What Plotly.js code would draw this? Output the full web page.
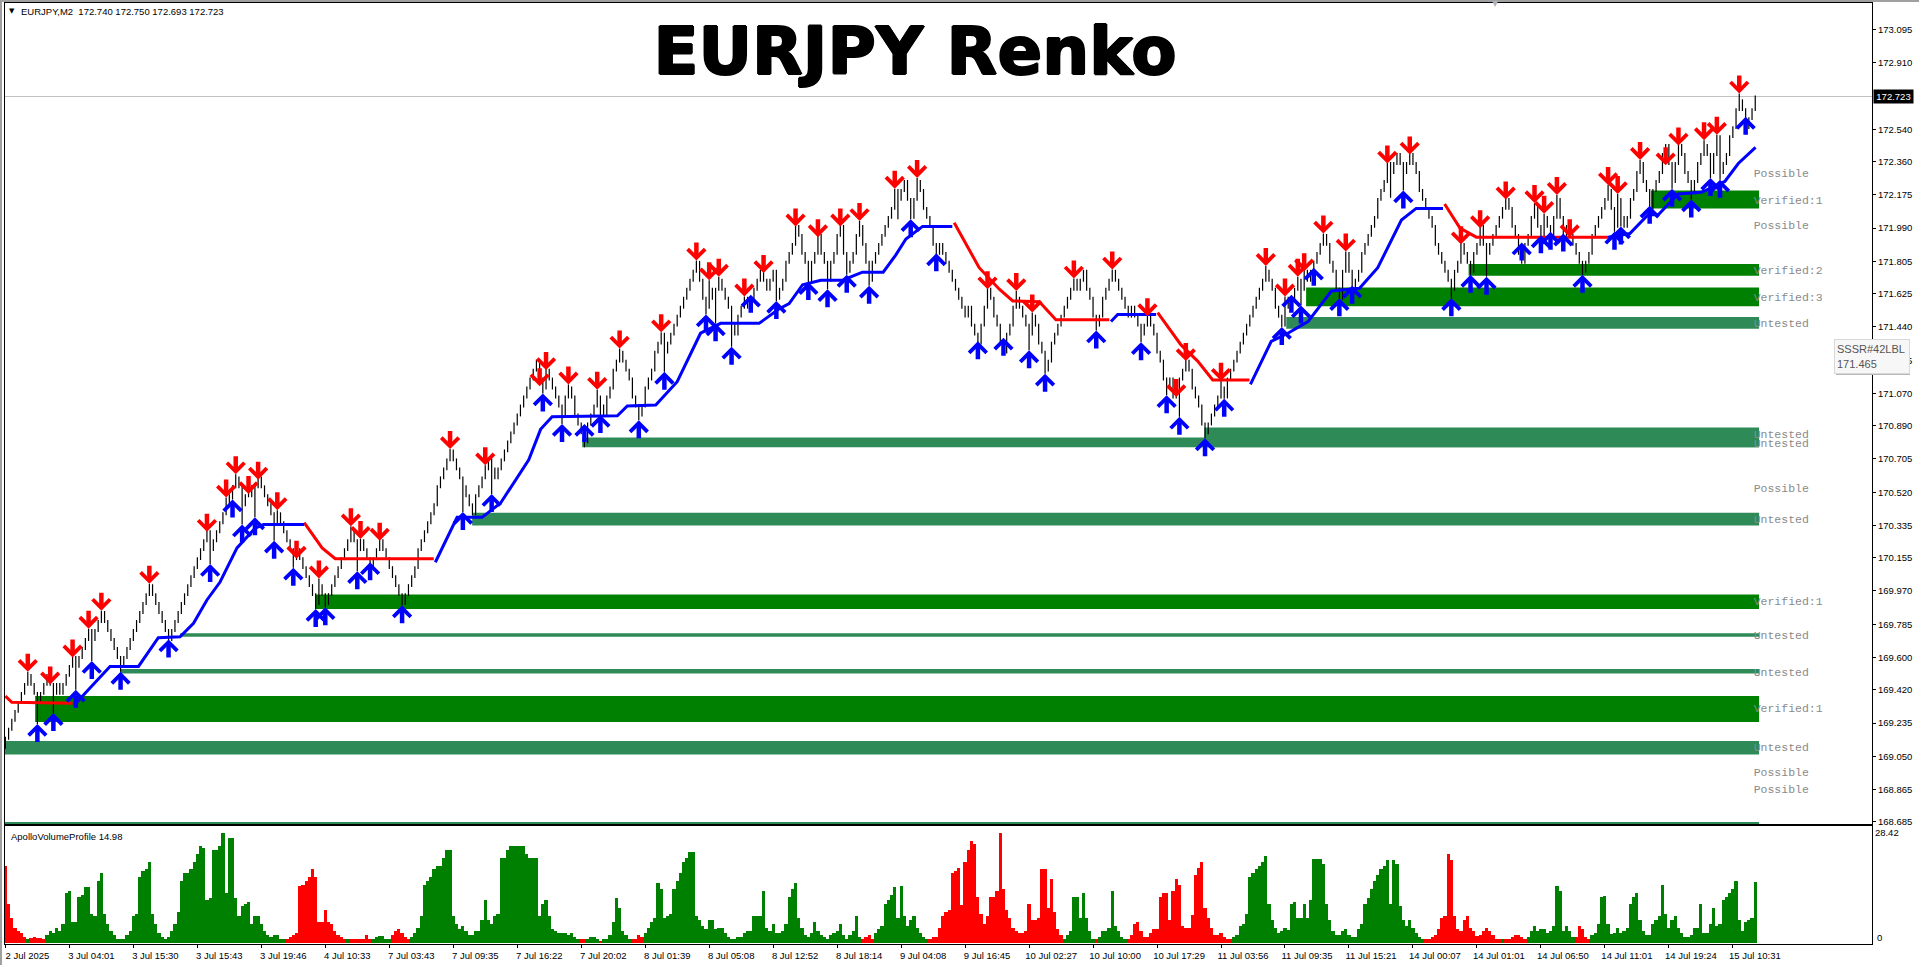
<!DOCTYPE html>
<html>
<head>
<meta charset="utf-8">
<script src="https://cdn.plot.ly/plotly-3.0.1.min.js"></script>
<style>html,body{margin:0;padding:0;background:#fff;overflow:hidden}</style>
</head>
<body>
<div id="chart" style="width:1919px;height:965px"></div>
<script>
// Renko closes, one per bar
const closes = [
169.15,169.20,169.25,169.30,169.35,169.40,169.45,169.50,169.45,169.40,
169.35,169.40,169.45,169.50,169.45,169.40,169.45,169.40,169.45,169.50,
169.55,169.60,169.55,169.60,169.65,169.70,169.75,169.70,169.75,169.80,
169.85,169.80,169.75,169.70,169.65,169.60,169.55,169.60,169.65,169.70,
169.75,169.80,169.85,169.90,169.95,170.00,169.95,169.90,169.85,169.80,
169.75,169.70,169.75,169.80,169.85,169.90,169.95,170.00,170.05,170.10,
170.15,170.20,170.25,170.30,170.20,170.25,170.30,170.35,170.40,170.45,
170.50,170.55,170.60,170.55,170.45,170.50,170.55,170.50,170.55,170.60,
170.55,170.50,170.45,170.40,170.35,170.40,170.35,170.30,170.25,170.20,
170.15,170.20,170.15,170.10,170.05,170.00,169.95,169.90,170.00,169.95,
169.90,169.95,170.00,170.05,170.10,170.15,170.20,170.25,170.30,170.25,
170.20,170.25,170.20,170.15,170.10,170.15,170.20,170.25,170.20,170.15,
170.10,170.05,170.00,169.95,169.90,169.95,170.00,170.05,170.10,170.20,
170.25,170.30,170.35,170.40,170.45,170.55,170.60,170.65,170.70,170.75,
170.70,170.65,170.60,170.55,170.50,170.45,170.40,170.50,170.55,170.60,
170.65,170.70,170.65,170.60,170.65,170.70,170.75,170.80,170.85,170.90,
170.95,171.00,171.05,171.10,171.15,171.20,171.25,171.15,171.10,171.20,
171.15,171.10,171.05,171.00,170.95,171.05,171.10,171.05,170.95,170.90,
170.85,170.80,170.90,170.95,171.00,171.05,171.00,170.95,171.05,171.10,
171.20,171.25,171.30,171.25,171.20,171.15,171.05,171.00,170.95,171.00,
171.10,171.15,171.20,171.30,171.35,171.40,171.30,171.35,171.40,171.45,
171.50,171.55,171.60,171.65,171.70,171.75,171.80,171.70,171.60,171.55,
171.65,171.60,171.65,171.70,171.65,171.60,171.55,171.45,171.40,171.50,
171.55,171.60,171.55,171.60,171.65,171.70,171.75,171.70,171.65,171.70,
171.75,171.60,171.65,171.70,171.80,171.85,171.90,172.00,171.95,171.85,
171.80,171.70,171.80,171.85,171.95,171.85,171.80,171.70,171.80,171.85,
171.95,172.00,171.85,171.75,171.80,171.85,171.95,172.00,171.90,171.80,
171.70,171.80,171.85,171.90,171.95,172.00,172.05,172.10,172.20,172.15,
172.20,172.25,172.15,172.05,172.15,172.25,172.20,172.10,172.05,172.00,
171.90,171.85,171.90,171.85,171.80,171.75,171.70,171.65,171.60,171.55,
171.50,171.55,171.45,171.40,171.35,171.45,171.55,171.65,171.60,171.50,
171.45,171.35,171.30,171.40,171.45,171.55,171.60,171.55,171.50,171.45,
171.40,171.50,171.45,171.35,171.30,171.20,171.25,171.35,171.40,171.45,
171.50,171.55,171.60,171.65,171.70,171.65,171.70,171.75,171.65,171.60,
171.50,171.45,171.50,171.60,171.65,171.70,171.75,171.70,171.65,171.60,
171.55,171.50,171.55,171.50,171.45,171.40,171.45,171.50,171.45,171.40,
171.30,171.25,171.15,171.10,171.15,171.05,171.10,171.15,171.20,171.25,
171.20,171.10,171.05,171.00,170.90,170.85,170.90,170.95,171.00,171.05,
171.10,171.05,171.15,171.20,171.25,171.30,171.35,171.40,171.45,171.50,
171.55,171.60,171.65,171.70,171.75,171.70,171.65,171.55,171.50,171.45,
171.60,171.55,171.60,171.65,171.70,171.65,171.75,171.70,171.75,171.80,
171.85,171.90,171.95,171.90,171.80,171.75,171.65,171.60,171.75,171.85,
171.75,171.65,171.70,171.75,171.85,171.90,171.95,172.00,172.05,172.15,
172.20,172.25,172.35,172.30,172.35,172.40,172.35,172.30,172.35,172.40,
172.35,172.30,172.20,172.15,172.10,172.05,172.00,171.90,171.85,171.80,
171.75,171.70,171.65,171.75,171.80,171.90,171.85,171.80,171.75,171.85,
171.90,172.00,171.90,171.85,171.90,171.95,172.00,172.05,172.10,172.15,
172.10,172.00,171.95,171.85,171.80,171.90,171.95,172.05,172.10,172.00,
171.95,172.05,172.00,171.95,172.05,172.15,172.05,171.95,172.00,171.95,
171.90,171.85,171.80,171.75,171.80,171.85,171.95,172.00,172.05,172.10,
172.15,172.20,172.10,172.00,172.15,172.05,172.00,172.05,172.15,172.20,
172.30,172.35,172.25,172.20,172.10,172.20,172.25,172.30,172.40,172.45,
172.35,172.25,172.35,172.45,172.40,172.30,172.25,172.20,172.25,172.35,
172.40,172.45,172.40,172.30,172.40,172.50,172.30,172.35,172.40,172.50,
172.55,172.65,172.70,172.65,172.55,172.60,172.65,172.72
];

// Up / down arrow signals: bar number and the price at the arrow tip
const upBars = [10,15,22,27,36,51,64,71,74,78,84,90,97,100,110,114,124,143,152,168,174,181,186,198,206,219,222,227,233,241,251,257,263,270,283,291,304,312,320,325,341,355,363,367,375,381,399,402,405,409,417,421,437,452,458,463,474,480,483,487,493,503,505,514,521,527,533,536,544];
const upTips = [169.23,169.29,169.42,169.58,169.52,169.70,170.12,170.48,170.34,170.38,170.25,170.10,169.87,169.88,170.08,170.13,169.89,170.41,170.51,171.07,170.90,170.90,170.95,170.92,171.19,171.51,171.46,171.33,171.62,171.585,171.69,171.65,171.73,171.67,172.04,171.85,171.36,171.38,171.31,171.18,171.42,171.355,171.06,170.94,170.82,171.04,171.44,171.62,171.56,171.77,171.60,171.67,172.20,171.60,171.73,171.72,171.91,171.95,171.97,171.96,171.73,171.97,172.00,172.115,172.21,172.15,172.27,172.26,172.61];
const downBars = [7,14,21,26,30,45,63,69,72,76,79,85,91,98,108,111,117,139,150,167,169,176,185,192,205,216,220,223,231,237,247,254,261,267,278,285,307,316,321,334,346,357,366,369,380,394,400,404,406,412,419,432,439,455,461,469,478,481,485,489,501,504,511,519,523,531,535,542];
const downTips = [169.52,169.45,169.60,169.76,169.86,170.01,170.30,170.49,170.62,170.51,170.59,170.42,170.15,170.04,170.33,170.26,170.25,170.76,170.67,171.11,171.20,171.12,171.09,171.32,171.41,171.81,171.70,171.72,171.61,171.74,172.00,171.94,172.00,172.03,172.21,172.27,171.65,171.64,171.52,171.71,171.76,171.50,171.05,171.25,171.14,171.78,171.61,171.72,171.75,171.96,171.86,172.35,172.40,171.90,171.99,172.15,172.13,172.07,172.175,171.94,172.23,172.18,172.37,172.34,172.45,172.48,172.51,172.74];
// Long lower wicks that are not tied to an arrow
const extraWickBars = [181,279,433];
const extraWickLows = [170.77,172.04,172.16];

// Signal line, red stretches and blue stretches (null separates stretches)
const redBars = [0,2,21,null,93.4,95.8,99,103.1,133.9,null,296.6,304.4,310.7,314.9,323.2,328.4,345.1,null,360.2,367.5,372.7,377.4,388.9,null,449.9,454.7,459.8,501];
const redVals = [169.385,169.35,169.345,null,170.35,170.29,170.21,170.15,170.15,null,172.02,171.77,171.65,171.585,171.58,171.48,171.48,null,171.52,171.34,171.25,171.145,171.145,null,172.125,171.99,171.94,171.94];
const blueBars = [21.5,32.7,41.6,47.8,54.6,58.8,63,67.1,72.4,78.1,80.7,93.4,null,134.4,141.2,149,152.7,154.8,163.6,167.3,170.9,191.3,194.4,203.3,210,213.2,217.3,223.6,235.6,241.8,245,249.2,254.9,261.7,267.9,274.4,278.3,281.5,286.7,296,null,345.6,347.7,359.7,null,389.2,395.7,400.9,407.2,414.5,423.3,429,436.4,441,449.4,null,501,507.8,513.5,516.7,522.9,530.2,537.5,541.7,547.1];
const blueVals = [169.335,169.55,169.55,169.71,169.715,169.79,169.92,170.02,170.21,170.32,170.34,170.34,null,170.13,170.38,170.38,170.43,170.46,170.70,170.87,170.94,170.945,171.00,171.005,171.135,171.25,171.405,171.46,171.46,171.54,171.57,171.675,171.70,171.70,171.745,171.745,171.84,171.93,172.00,172.00,null,171.47,171.51,171.51,null,171.12,171.36,171.405,171.47,171.64,171.655,171.77,172.035,172.10,172.10,null,171.94,171.96,172.065,172.065,172.18,172.19,172.25,172.35,172.44];

// Supply / demand zones
const zoneStart = [-0.2,9.3,35.9,54.6,96.9,145.9,180.3,374.8,400.4,406.6,457.4,514.4,-0.2];
const zoneEnd   = [548.2,548.2,548.2,548.2,548.2,548.2,548.2,548.2,548.2,548.2,548.2,548.2,548.2];
const zoneHigh  = [169.135,169.385,169.535,169.735,169.95,170.405,170.825,170.88,171.495,171.66,171.79,172.20,168.684];
const zoneLow   = [169.06,169.24,169.51,169.715,169.87,170.335,170.77,170.77,171.43,171.555,171.725,172.10,168.673];
const zoneColor = ['#2e8b57','#008000','#2e8b57','#2e8b57','#008000','#2e8b57','#2e8b57','#2e8b57','#2e8b57','#008000','#008000','#008000','#2e8b57'];
const zoneNames = ['Possible','Verified:1','Possible','Verified:2','Verified:3','Untested','Untested','Untested','Possible','Untested','Verified:1','Untested','Untested','Verified:1','Untested','Possible','Possible'];
const zoneNamePrices = [172.29,172.14,172.00,171.75,171.60,171.457,170.84,170.79,170.535,170.365,169.91,169.717,169.514,169.31,169.096,168.957,168.862];

// Volume pane
const volumes = [
20,10,6.5,4,3,2.5,1.5,1,1.2,1.5,
1.3,1.2,1,2,3,2.5,4,3,5,13,
13.4,5.5,5.5,12,12.5,14.5,14.5,7.5,7,16,
18,7.5,5,3,2,1,1,1,2,3,
7,7.5,17,18.5,19,21,7.5,5,2.5,1.5,
1,1.5,3,5,8,16,18,18,19,21,
23,25,24.5,11,11.5,24,24,25,28.3,13,
27,27,11.5,7,9.5,10,10.5,5,7,7,
5,3,2,1.5,2,2,1,1,1,1.5,
2,2.5,14.8,15,16,17,19,17,5.5,5.5,
8.5,5.5,5,3,2,1.5,1,1,1,1,
1,1,1,2,1,1,1.5,1.8,1.8,1,
1,2,3.2,3.5,2.5,1.5,1,1.5,2.5,4,
7,15,16,17,19,20,20,22,24,24,
7,5,3.5,4.5,3,2,2,3,3,6,
11,6,5,7,7.5,22,22,24,25,25,
25,25,25,23,22,22,22,7,10,11,
7,3.5,3,2.5,2.5,2.5,2,2.5,1.5,1,
1,1,1,1.5,1.5,1,0.5,1,1,2,
5.5,11.5,9,3,2,1,1,1,2,1.5,
2.5,4,5.5,6.5,15.5,14,6.5,7,7.5,14,
16,18,21,22,23.5,23.5,7,6,4.5,3.5,
6,6,3.5,4,4,2.5,1.5,1,1,1.5,
1.5,2.5,3,3,7,7,7,13.5,4,3,
5,2.5,2.5,3,5,12,14,15.5,6.5,4,
2,1.5,2.5,5.5,3,2,1.5,1,2,2.5,
3,5,2,1,2,3,7,1.5,1,1.5,
2,1,2.5,3.5,4.5,10,11,12.5,14.5,6.5,
14.7,7,4.5,6,7,4,2.5,1.5,1,1,
1.5,1.5,4,7,8,8.5,18,18.5,19.5,9.7,
21,24,26.4,25.5,12,7.5,5,7,12,12,
13.5,28.4,14,8.5,6.5,4,3,2.5,2.5,3,
10,6,6,6.5,19,19,9,16.6,8,3.5,
2,1,2,3,12,12,6.5,13,6.5,3,
1,1,1.5,3,3,4,13.5,4.5,3,1.5,
1,1,2,5,5.4,3,1.5,1.5,2.5,3.5,
3.5,12,13,13,6,13.5,16.5,15,4.5,4,
4,7.3,17.5,19.5,21,9,6.5,4,2,2,
2.5,1.5,1,1,1.5,2,4.5,5,7.5,17,
18,19,20,21,22.5,10,6,4,2.5,3,
4,3.3,10,10.5,6.5,6.5,10,6.5,11,21.8,
21.8,21.8,20.5,10,6,3,2,2,3,3.5,
2,1.5,1.5,3.5,5,10,11.5,14,16,17.5,
19,20,21.5,10,21.5,20.5,9.5,6,4.5,6,
4,2.5,1.5,1,1,1,1.5,2,3.5,6.5,
7,22.9,21.5,7,3.5,3,6,7,4,3,
1.8,2,3,4,3,2,1,1,1,1,
1,1.5,2,2,1.5,1,1.5,3,4.5,3,
3.5,3.5,2.5,3,4.5,14.7,13.5,3,4.5,3,
1.5,1.5,4.5,3.5,1.5,1,2,2.5,5,12,
12.2,5,2.3,2.5,4,2.5,3,4,10,12,
13,6,3,2,2,5,6,7,15,7.5,
4,6,7,4,2.5,1.5,1.5,2,4,4,
10,2.5,2.5,5,9,4.5,5,11,12,13,
14,16,6,3,5.5,6,6.5,15.7
];
// Bar-number stretches where the volume is red [first,last]
const volRedRanges = [[0,6],[8,12],[88,106],[108,114],[121,126],[180,181],[186,186],[196,199],[268,271],[289,330],[341,341],[351,383],[444,467],[469,475],[491,495]];

// Tick labels
const xTickBars = [0,20,40,60,80,100,120,140,160,180,200,220,240,260,280,300,320,340,360,380,400,420,440,460,480,500,520,540];
const xTickText = ['2 Jul 2025','3 Jul 04:01','3 Jul 15:30','3 Jul 15:43','3 Jul 19:46','4 Jul 10:33','7 Jul 03:43','7 Jul 09:35','7 Jul 16:22','7 Jul 20:02','8 Jul 01:39','8 Jul 05:08','8 Jul 12:52','8 Jul 18:14','9 Jul 04:08','9 Jul 16:45','10 Jul 02:27','10 Jul 10:00','10 Jul 17:29','11 Jul 03:56','11 Jul 09:35','11 Jul 15:21','14 Jul 00:07','14 Jul 01:01','14 Jul 06:50','14 Jul 11:01','14 Jul 19:24','15 Jul 10:31'];
const yTicks = [173.095,172.910,172.540,172.360,172.175,171.990,171.805,171.625,171.440,171.255,171.070,170.890,170.705,170.520,170.335,170.155,169.970,169.785,169.600,169.420,169.235,169.050,168.865,168.685];
const currentPrice = 172.723;
const volMax = 28.42;

const W = 1919, H = 965;
const axisFont = {family:'"Liberation Sans", Arial, sans-serif', size:9.5, color:'#000'};
const bars = closes.map((_, i) => i);
const opens = closes.map((c, i) => i === 0 ? 169.10 : closes[i - 1]);
const highs = closes.map((c, i) => Math.max(c, opens[i]) + 0.008);
const lows  = closes.map((c, i) => Math.min(c, opens[i]) - 0.008);
downBars.forEach((b, k) => { highs[b] = Math.max(highs[b], downTips[k]); });
upBars.forEach((b, k) => { lows[b] = Math.min(lows[b], upTips[k]); });
extraWickBars.forEach((b, k) => { lows[b] = Math.min(lows[b], extraWickLows[k]); });

const volColors = volumes.map((v, i) => volRedRanges.some(r => i >= r[0] && i <= r[1]) ? '#ff0000' : '#008000');

const traces = [
  {type:'ohlc', x:bars, open:opens, high:highs, low:lows, close:closes, xaxis:'x', yaxis:'y', tickwidth:0,
   increasing:{line:{color:'#000', width:1.2}}, decreasing:{line:{color:'#000', width:1.2}}, hoverinfo:'skip', showlegend:false},
  {type:'scatter', mode:'lines', x:redBars, y:redVals, line:{color:'#ff0000', width:3}, connectgaps:false, xaxis:'x', yaxis:'y', hoverinfo:'skip', showlegend:false},
  {type:'scatter', mode:'lines', x:blueBars, y:blueVals, line:{color:'#0000ff', width:3}, connectgaps:false, xaxis:'x', yaxis:'y', hoverinfo:'skip', showlegend:false},
  {type:'scatter', mode:'text', x:zoneNames.map(() => 546.5), y:zoneNamePrices, text:zoneNames, textposition:'middle right',
   textfont:{family:'"Liberation Mono", monospace', size:11.5, color:'#8a8a8a'}, cliponaxis:false, xaxis:'x', yaxis:'y', hoverinfo:'skip', showlegend:false},
  {type:'bar', x:bars, y:volumes, width:1, marker:{color:volColors, line:{width:0}}, xaxis:'x2', yaxis:'y2', hoverinfo:'skip', showlegend:false}
];

const shapes = zoneStart.map((s, k) => ({type:'rect', layer:'below', xref:'x', yref:'y', x0:s, x1:zoneEnd[k], y0:zoneLow[k], y1:zoneHigh[k], fillcolor:zoneColor[k], line:{width:0}}));
shapes.push({type:'line', layer:'below', xref:'paper', yref:'y', x0:4.7/W, x1:1872/W, y0:currentPrice, y1:currentPrice, line:{color:'#c0c0c0', width:1}});
// window edge
shapes.push({type:'rect', xref:'paper', yref:'paper', x0:0, x1:2/W, y0:0, y1:1, fillcolor:'#a0a0a0', line:{width:0}});
shapes.push({type:'rect', xref:'paper', yref:'paper', x0:0, x1:1, y0:1-2/H, y1:1, fillcolor:'#a0a0a0', line:{width:0}});
// tooltip shadow
shapes.push({type:'rect', xref:'paper', yref:'paper', x0:1836/W, x1:1910/W, y0:1-375/H, y1:1-342/H, fillcolor:'#b8b8b8', line:{width:0}});

const annotations = [];
const arrowBase = {xref:'x', yref:'y', ax:0, text:' ', font:{size:1}, width:1, height:1, borderpad:0, showarrow:true, arrowhead:4, arrowsize:0.75, arrowwidth:4.5, standoff:0};
upBars.forEach((b, k) => annotations.push(Object.assign({}, arrowBase, {x:b, y:upTips[k], ay:19, arrowcolor:'#0000ff'})));
downBars.forEach((b, k) => annotations.push(Object.assign({}, arrowBase, {x:b, y:downTips[k], ay:-19, arrowcolor:'#ff0000'})));
const textNote = (text, px, py, extra) => Object.assign({text, x:px/W, y:1-py/H, xref:'paper', yref:'paper', xanchor:'left', yanchor:'middle', showarrow:false, font:axisFont, borderpad:0}, extra || {});
annotations.push(textNote('EURJPY,M2  172.740 172.750 172.693 172.723', 20, 11.5));
annotations.push(textNote('▼', 8, 11.5, {font:{family:'"DejaVu Sans"', size:7, color:'#000'}}));
annotations.push(textNote('ApolloVolumeProfile 14.98', 10, 836));
annotations.push(textNote('▼', 1491, 3.5, {font:{family:'"DejaVu Sans"', size:8, color:'#b0b0b0'}}));
annotations.push(textNote('0', 1876, 937));
annotations.push({text:'172.723', x:1873/W, xref:'paper', y:currentPrice, yref:'y', xanchor:'left', yanchor:'middle', showarrow:false, bgcolor:'#000', borderpad:1,
  font:{family:axisFont.family, size:9.5, color:'#fff'}, width:37, height:11});
annotations.push({text:'SSSR#42LBL<br>171.465', x:1834/W, y:1-339/H, xref:'paper', yref:'paper', xanchor:'left', yanchor:'top', align:'left', showarrow:false,
  bgcolor:'#f7f7f7', bordercolor:'#d8d8d8', borderwidth:1, borderpad:2, width:70, height:29, font:{family:'"Liberation Sans", Arial, sans-serif', size:11, color:'#555'}});

const layout = {
  width:W, height:H, autosize:false, margin:{l:0,r:0,t:0,b:0,pad:0},
  paper_bgcolor:'#fff', plot_bgcolor:'#fff', showlegend:false, bargap:0, barmode:'overlay', dragmode:false,
  title:{text:'EURJPY Renko', x:915/W, y:1-51/H, xref:'paper', yref:'paper', xanchor:'center', yanchor:'middle',
    font:{family:'"DejaVu Sans", sans-serif', size:66, color:'#000', weight:700, shadow:'1px 0 0 #000, -1px 0 0 #000, 0 1px 0 #000, 0 -1px 0 #000'}},
  xaxis:{domain:[4.7/W,1872/W], range:[-0.22,583.5], anchor:'y', showgrid:false, zeroline:false, ticks:'', showticklabels:false,
    showline:true, mirror:true, linecolor:'#000', linewidth:1, rangeslider:{visible:false}, fixedrange:true},
  yaxis:{domain:[1-824.3/H,1-3.3/H], range:[168.671,173.242], anchor:'x', side:'right', showgrid:false, zeroline:false,
    tickmode:'array', tickvals:yTicks, ticktext:yTicks.map(v => v.toFixed(3)), ticks:'outside', ticklen:3, tickwidth:1, tickcolor:'#000', tickfont:axisFont,
    showline:true, mirror:true, linecolor:'#000', linewidth:1, fixedrange:true},
  xaxis2:{domain:[4.7/W,1872/W], range:[-0.22,583.5], anchor:'y2', showgrid:false, zeroline:false,
    tickmode:'array', tickvals:xTickBars, ticktext:xTickText, ticks:'outside', ticklen:3, tickwidth:1, tickcolor:'#000', tickfont:axisFont, tickangle:0, ticklabelshift:22,
    showline:true, mirror:true, linecolor:'#000', linewidth:1, fixedrange:true},
  yaxis2:{domain:[1-944/H,1-826.3/H], range:[-0.26,30.15], anchor:'x2', side:'right', showgrid:false, zeroline:false,
    tickmode:'array', tickvals:[volMax], ticktext:[String(volMax)], ticks:'', tickfont:axisFont,
    showline:true, mirror:true, linecolor:'#000', linewidth:1, fixedrange:true},
  shapes, annotations
};
Plotly.newPlot('chart', traces, layout, {displayModeBar:false, staticPlot:true, responsive:false});
</script>
</body>
</html>
